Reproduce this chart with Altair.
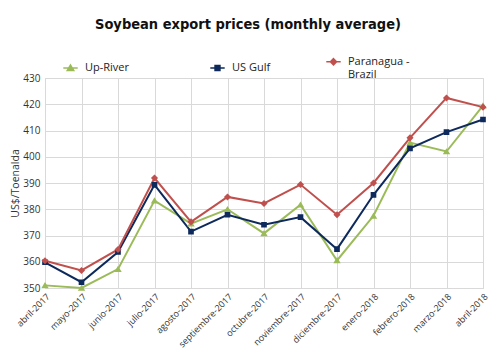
import altair as alt
import pandas as pd

months = ["abril-2017", "mayo-2017", "junio-2017", "julio-2017", "agosto-2017",
          "septiembre-2017", "octubre-2017", "noviembre-2017", "diciembre-2017",
          "enero-2018", "febrero-2018", "marzo-2018", "abril-2018"]
series_names = ["Up-River", "US Gulf", "Paranagua - Brazil"]
up_river = [351.0, 350.0, 357.2, 383.3, 374.5, 380.0, 370.8, 381.7, 360.5, 377.5, 405.4, 402.0, 419.5]
us_gulf = [359.8, 352.2, 363.7, 389.3, 371.5, 377.9, 374.1, 377.0, 364.8, 385.5, 403.2, 409.4, 414.2]
paranagua = [360.4, 356.7, 364.7, 391.9, 375.2, 384.7, 382.2, 389.4, 377.9, 390.0, 407.2, 422.4, 418.9]
colors = ["#9BBB59", "#0E2A5C", "#C0504D"]
shapes = [
    "M-2.4,0H2.4M0,-0.95L1.05,0.8L-1.05,0.8Z",
    "M-2.4,0H2.4M-0.8,-0.8H0.8V0.8H-0.8Z",
    "M-2.4,0H2.4M0,-1L1,0L0,1L-1,0Z",
]

rows = []
for name, vals in zip(series_names, [up_river, us_gulf, paranagua]):
    for m, v in zip(months, vals):
        rows.append({"month": m, "series": name, "value": v})
df = pd.DataFrame(rows)

FONT = "Open Sans"

x = alt.X("month:N", sort=months, title=None,
          scale=alt.Scale(type="point", padding=0),
          axis=alt.Axis(labelAngle=-45, labelFontSize=9, labelFont=FONT, labelColor="#333333",
                        grid=True, gridColor="#D9D9D9", domainColor="#D9D9D9",
                        ticks=False, labelPadding=4))
y = alt.Y("value:Q", title="US$/Toenalda",
          scale=alt.Scale(domain=[350, 430], nice=False, zero=False),
          axis=alt.Axis(values=list(range(350, 431, 10)), labelFontSize=10, labelFont=FONT,
                        labelColor="#333333", titleFont=FONT, titleFontSize=10.5,
                        titleFontWeight="normal", titleColor="#333333", titlePadding=2,
                        grid=True, gridColor="#D9D9D9", domain=False, ticks=False,
                        labelPadding=5))

pad = "\u00a0" * 9 + "\u200b"
legend = alt.Legend(
    title=None, orient="none", legendX=20, legendY=-22,
    direction="horizontal", columnPadding=52,
    labelFont=FONT, labelFontSize=11, labelColor="#222222", labelBaseline="middle",
    labelOffset=9, symbolSize=36, symbolStrokeWidth=1.6, symbolOpacity=1,
    labelExpr="datum.label == 'Paranagua - Brazil' ? ['Paranagua -', 'Brazil'] : (datum.label == 'Up-River' ? 'Up-River" + pad + "' : datum.label)",
)

cscale = alt.Scale(domain=series_names, range=colors)

lines = alt.Chart(df).mark_line(strokeWidth=2).encode(
    x=x, y=y, color=alt.Color("series:N", scale=cscale, legend=legend), detail="series:N")

points = alt.Chart(df).mark_point(filled=True, size=50, opacity=1, strokeWidth=0).encode(
    x=x, y=y,
    color=alt.Color("series:N", scale=cscale, legend=legend),
    stroke=alt.Stroke("series:N", scale=alt.Scale(domain=series_names, range=colors), legend=legend),
    shape=alt.Shape("series:N", scale=alt.Scale(domain=series_names, range=shapes), legend=legend),
)

chart = alt.layer(lines, points).properties(
    width=438, height=210,
    title=alt.TitleParams("Soybean export prices (monthly average)",
                          font="DejaVu Sans Condensed, Liberation Sans Narrow, sans-serif",
                          fontSize=14.5, fontWeight="bold", color="#111111", dx=-16, offset=24),
    autosize=alt.AutoSizeParams(type="none"),
    padding={"left": 37, "top": 70, "right": 9, "bottom": 60},
).configure_view(stroke=None).configure(background="white")

chart.save("out.html", embed_options={"renderer": "svg", "actions": False})
